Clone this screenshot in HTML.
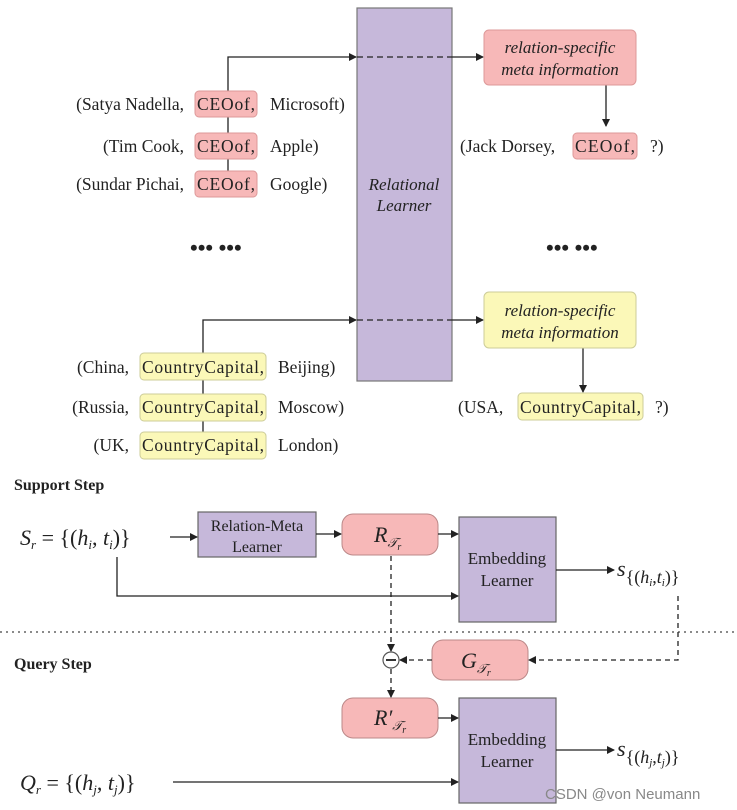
<!DOCTYPE html>
<html><head><meta charset="utf-8"><style>
html,body{margin:0;padding:0;background:#fff}
svg{display:block}
text{font-family:"Liberation Serif",serif;fill:#222}
</style></head><body>
<svg width="737" height="810" viewBox="0 0 737 810" xmlns="http://www.w3.org/2000/svg">
<defs>
<marker id="a" markerWidth="8" markerHeight="8" refX="7" refY="4" orient="auto" markerUnits="userSpaceOnUse"><path d="M0,0 L8,4 L0,8 z" fill="#222"/></marker>
</defs>
<rect x="357" y="8" width="95" height="373" fill="#c6b8da" stroke="#777" stroke-width="1.2"/>
<text x="404" y="190" font-size="17" font-style="italic" text-anchor="middle">Relational</text>
<text x="404" y="211" font-size="17" font-style="italic" text-anchor="middle">Learner</text>

<g stroke="#222" stroke-width="1.3" fill="none">
<path d="M228,184 L228,57 L356,57" marker-end="url(#a)"/>
<path d="M357,57 L452,57" stroke-dasharray="6,4"/>
<path d="M452,57 L483,57" marker-end="url(#a)"/>
<path d="M606,85 L606,126" marker-end="url(#a)"/>
<path d="M203,445 L203,320 L356,320" marker-end="url(#a)"/>
<path d="M357,320 L452,320" stroke-dasharray="6,4"/>
<path d="M452,320 L483,320" marker-end="url(#a)"/>
<path d="M583,348 L583,392" marker-end="url(#a)"/>
</g>
<rect x="484" y="30" width="152" height="55" rx="5" fill="#f7b8b8" stroke="#d99"/>
<text x="560" y="53" font-size="17" font-style="italic" text-anchor="middle">relation-specific</text>
<text x="560" y="75" font-size="17" font-style="italic" text-anchor="middle">meta information</text>
<rect x="484" y="292" width="152" height="56" rx="5" fill="#fbf8b8" stroke="#cc9"/>
<text x="560" y="316" font-size="17" font-style="italic" text-anchor="middle">relation-specific</text>
<text x="560" y="338" font-size="17" font-style="italic" text-anchor="middle">meta information</text>

<g font-size="17.5">
<rect x="195" y="91" width="62" height="26" rx="4" fill="#f7b8b8" stroke="#d99"/>
<rect x="195" y="133" width="62" height="26" rx="4" fill="#f7b8b8" stroke="#d99"/>
<rect x="195" y="171" width="62" height="26" rx="4" fill="#f7b8b8" stroke="#d99"/>
<text x="184" y="110" text-anchor="end">(Satya Nadella,</text><text x="197" y="110" textLength="58">CEOof,</text><text x="270" y="110">Microsoft)</text>
<text x="184" y="152" text-anchor="end">(Tim Cook,</text><text x="197" y="152" textLength="58">CEOof,</text><text x="270" y="152">Apple)</text>
<text x="184" y="190" text-anchor="end">(Sundar Pichai,</text><text x="197" y="190" textLength="58">CEOof,</text><text x="270" y="190">Google)</text>
<rect x="573" y="133" width="64" height="26" rx="4" fill="#f7b8b8" stroke="#d99"/>
<text x="460" y="152">(Jack Dorsey,</text><text x="575" y="152" textLength="60">CEOof,</text><text x="650" y="152">?)</text>

<rect x="140" y="353" width="126" height="27" rx="4" fill="#fbf8b8" stroke="#cc9"/>
<rect x="140" y="394" width="126" height="27" rx="4" fill="#fbf8b8" stroke="#cc9"/>
<rect x="140" y="432" width="126" height="27" rx="4" fill="#fbf8b8" stroke="#cc9"/>
<text x="129" y="373" text-anchor="end">(China,</text><text x="142" y="373" textLength="122">CountryCapital,</text><text x="278" y="373">Beijing)</text>
<text x="129" y="413" text-anchor="end">(Russia,</text><text x="142" y="413" textLength="122">CountryCapital,</text><text x="278" y="413">Moscow)</text>
<text x="129" y="451" text-anchor="end">(UK,</text><text x="142" y="451" textLength="122">CountryCapital,</text><text x="278" y="451">London)</text>
<rect x="518" y="393" width="125" height="27" rx="4" fill="#fbf8b8" stroke="#cc9"/>
<text x="458" y="413">(USA,</text><text x="520" y="413" textLength="121">CountryCapital,</text><text x="655" y="413">?)</text>
</g>
<text x="190" y="255" font-size="22" font-weight="bold">••• •••</text>
<text x="546" y="255" font-size="22" font-weight="bold">••• •••</text>

<text x="14" y="490" font-size="16" font-weight="bold">Support Step</text>
<text x="14" y="669" font-size="16" font-weight="bold">Query Step</text>
<line x1="0" y1="632" x2="737" y2="632" stroke="#444" stroke-width="1.2" stroke-dasharray="2,4"/>

<text x="20" y="545" font-size="22" font-style="italic">S<tspan font-size="13" dy="4">r</tspan><tspan dy="-4" font-style="normal"> = {(</tspan>h<tspan font-size="13" dy="4">i</tspan><tspan dy="-4" font-style="normal">, </tspan>t<tspan font-size="13" dy="4">i</tspan><tspan dy="-4" font-style="normal">)}</tspan></text>
<text x="20" y="790" font-size="22" font-style="italic">Q<tspan font-size="13" dy="4">r</tspan><tspan dy="-4" font-style="normal"> = {(</tspan>h<tspan font-size="13" dy="4">j</tspan><tspan dy="-4" font-style="normal">, </tspan>t<tspan font-size="13" dy="4">j</tspan><tspan dy="-4" font-style="normal">)}</tspan></text>

<rect x="198" y="512" width="118" height="45" fill="#c6b8da" stroke="#666" stroke-width="1.2"/>
<text x="257" y="531" font-size="16" text-anchor="middle">Relation-Meta</text>
<text x="257" y="552" font-size="16" text-anchor="middle">Learner</text>

<rect x="342" y="514" width="96" height="41" rx="11" fill="#f7b8b8" stroke="#b88"/>
<text x="374" y="542" font-size="22" font-style="italic">R<tspan font-size="13" dy="5">𝒯</tspan><tspan font-size="10" dy="3">r</tspan></text>

<rect x="459" y="517" width="97" height="105" fill="#c6b8da" stroke="#666" stroke-width="1.2"/>
<text x="507" y="564" font-size="17" text-anchor="middle">Embedding</text>
<text x="507" y="586" font-size="17" text-anchor="middle">Learner</text>

<rect x="432" y="640" width="96" height="40" rx="11" fill="#f7b8b8" stroke="#b88"/>
<text x="461" y="668" font-size="22" font-style="italic">G<tspan font-size="13" dy="5">𝒯</tspan><tspan font-size="10" dy="3">r</tspan></text>

<rect x="342" y="698" width="96" height="40" rx="11" fill="#f7b8b8" stroke="#b88"/>
<text x="374" y="725" font-size="22" font-style="italic">R′<tspan font-size="13" dy="5">𝒯</tspan><tspan font-size="10" dy="3">r</tspan></text>

<rect x="459" y="698" width="97" height="105" fill="#c6b8da" stroke="#666" stroke-width="1.2"/>
<text x="507" y="745" font-size="17" text-anchor="middle">Embedding</text>
<text x="507" y="767" font-size="17" text-anchor="middle">Learner</text>

<g stroke="#222" stroke-width="1.3" fill="none">
<path d="M170,537 L197,537" marker-end="url(#a)"/>
<path d="M316,534 L341,534" marker-end="url(#a)"/>
<path d="M438,534 L458,534" marker-end="url(#a)"/>
<path d="M117,557 L117,596 L458,596" marker-end="url(#a)"/>
<path d="M556,570 L614,570" marker-end="url(#a)"/>
<path d="M556,750 L614,750" marker-end="url(#a)"/>
<path d="M173,782 L458,782" marker-end="url(#a)"/>
<path d="M438,718 L458,718" marker-end="url(#a)"/>
<g stroke-dasharray="5,4">
<path d="M391,556 L391,651" marker-end="url(#a)"/>
<path d="M678,596 L678,660 L529,660" marker-end="url(#a)"/>
<path d="M432,660 L400,660" marker-end="url(#a)"/>
<path d="M391,669 L391,697" marker-end="url(#a)"/>
</g>
</g>
<circle cx="391" cy="660" r="8" fill="#fff" stroke="#555" stroke-width="1.2"/>
<line x1="386" y1="660" x2="396" y2="660" stroke="#333" stroke-width="2"/>

<text x="617" y="576" font-size="22" font-style="italic">s<tspan font-size="18" font-style="normal" dy="7">{(</tspan><tspan font-size="18">h</tspan><tspan font-size="11" dy="3">i</tspan><tspan font-size="18" font-style="normal" dy="-3">,</tspan><tspan font-size="18">t</tspan><tspan font-size="11" dy="3">i</tspan><tspan font-size="18" font-style="normal" dy="-3">)}</tspan></text>
<text x="617" y="756" font-size="22" font-style="italic">s<tspan font-size="18" font-style="normal" dy="7">{(</tspan><tspan font-size="18">h</tspan><tspan font-size="11" dy="3">j</tspan><tspan font-size="18" font-style="normal" dy="-3">,</tspan><tspan font-size="18">t</tspan><tspan font-size="11" dy="3">j</tspan><tspan font-size="18" font-style="normal" dy="-3">)}</tspan></text>

<text x="545" y="799" font-size="15" style="font-family:'Liberation Sans',sans-serif;fill:#888">CSDN @von  Neumann</text>
</svg>
</body></html>
